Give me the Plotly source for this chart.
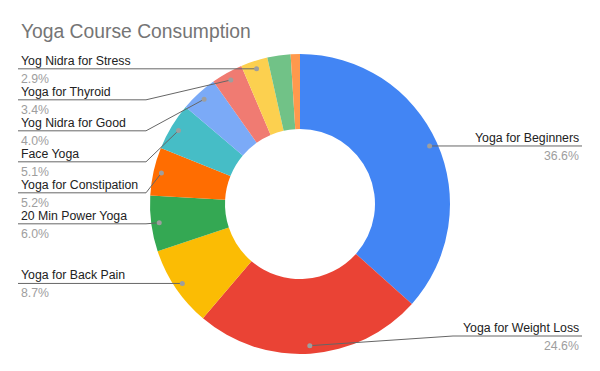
import math
import plotly.graph_objects as go

# ---- data ----
courses = ["Yoga for Beginners", "Yoga for Weight Loss", "Yoga for Back Pain",
           "20 Min Power Yoga", "Yoga for Constipation", "Face Yoga",
           "Yog Nidra for Good", "Yoga for Thyroid", "Yog Nidra for Stress",
           "Yoga for Flexibility", "Yoga for Kids"]
shares = [36.6, 24.6, 8.7, 6.0, 5.2, 5.1, 4.0, 3.4, 2.9, 2.5, 1.0]
show_label = [True, True, True, True, True, True, True, True, True, False, False]

# ---- style ----
colors = ["#4285F4", "#EA4335", "#FBBC04", "#34A853", "#FF6D01", "#46BDC6",
          "#7BAAF7", "#F07B72", "#FCD04F", "#71C287", "#FF994D"]
W, H = 600, 371
CX, CY, R = 300, 204, 150
DOT_R = 142
LEFT_X, LEFT_ELBOW = 18, 146
RIGHT_X, RIGHT_ELBOW = 582, 453
MIN_GAP = 31
MAX_Y = 336

def px(x):
    return x / W

def py(y):
    return 1 - y / H

fig = go.Figure(go.Pie(
    labels=courses, values=shares, hole=0.5, sort=False, direction="clockwise",
    marker=dict(colors=colors, line=dict(width=0)), textinfo="none",
    hoverinfo="label+percent", showlegend=False,
    domain=dict(x=[px(CX - R), px(CX + R)], y=[py(CY + R), py(CY - R)]),
))

total = sum(shares)
cum = 0.0
left, right = [], []
for name, v, show in zip(courses, shares, show_label):
    mid = (cum + v / 2) / total * 2 * math.pi
    cum += v
    if not show:
        continue
    dx, dy = DOT_R * math.sin(mid), -DOT_R * math.cos(mid)
    item = dict(name=name, pct=f"{v / total * 100:.1f}%", x=CX + dx, y=CY + dy)
    (right if dx > 0 else left).append(item)

shapes, annots = [], []
FONT = "Liberation Sans, Arial"

def place(items, side):
    items.sort(key=lambda d: d["y"])
    prev = -1e9
    for it in items:
        ly = max(it["y"], prev + MIN_GAP)
        if side == "right":
            ly = min(ly, MAX_Y)
        prev = ly
        elbow = LEFT_ELBOW if side == "left" else RIGHT_ELBOW
        end = LEFT_X if side == "left" else RIGHT_X
        for (x0, y0, x1, y1) in [(it["x"], it["y"], elbow, ly), (elbow, ly, end, ly)]:
            shapes.append(dict(type="line", xref="paper", yref="paper",
                               x0=px(x0), y0=py(y0), x1=px(x1), y1=py(y1),
                               line=dict(color="#666666", width=1)))
        shapes.append(dict(type="circle", xref="paper", yref="paper",
                           x0=px(it["x"] - 2.5), x1=px(it["x"] + 2.5),
                           y0=py(it["y"] - 2.5), y1=py(it["y"] + 2.5),
                           fillcolor="#9E9E9E", line=dict(width=0)))
        tx = LEFT_X + 1 if side == "left" else RIGHT_X - 1
        xa = "left" if side == "left" else "right"
        annots.append(dict(x=px(tx), y=py(ly - 8), xref="paper", yref="paper",
                           text=it["name"], showarrow=False, xanchor=xa, yanchor="middle",
                           font=dict(family=FONT, size=12.3, color="#222222")))
        annots.append(dict(x=px(tx), y=py(ly + 10), xref="paper", yref="paper",
                           text=it["pct"], showarrow=False, xanchor=xa, yanchor="middle",
                           font=dict(family=FONT, size=12.3, color="#9E9E9E")))

place(left, "left")
place(right, "right")

annots.append(dict(x=px(19), y=py(31), xref="paper", yref="paper",
                   text="Yoga Course Consumption", showarrow=False,
                   xanchor="left", yanchor="middle",
                   font=dict(family=FONT, size=19.3, color="#757575")))

fig.update_layout(width=W, height=H, margin=dict(l=0, r=0, t=0, b=0),
                  paper_bgcolor="white", plot_bgcolor="white",
                  shapes=shapes, annotations=annots)
fig.write_html("out.html", config={"displayModeBar": False},
               post_script="document.body.style.margin='0';")
